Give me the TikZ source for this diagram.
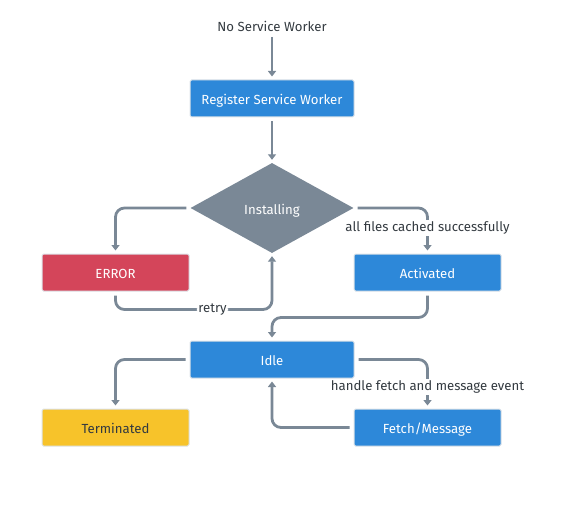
\documentclass[tikz,border=0pt]{standalone}
\usepackage{fontspec}
\setmainfont{Fira Sans}
\usetikzlibrary{shapes.geometric,arrows.meta}
\definecolor{cblue}{HTML}{2D88D9}
\definecolor{cred}{HTML}{D4455A}
\definecolor{cyellow}{HTML}{F7C32A}
\definecolor{cgray}{HTML}{7A8896}
\definecolor{ctext}{HTML}{333A40}
\definecolor{cedge}{HTML}{DDE3E8}
\tikzset{
  txt/.style={font=\fontsize{13.2}{15}\selectfont},
  box/.style={rectangle, rounded corners=1.5pt, draw=cedge, line width=1pt, minimum width=#1, minimum height=37pt, inner sep=0pt, text height=12pt, text depth=0pt, txt},
  bluebox/.style={box=164pt, fill=cblue, text=white},
  sbluebox/.style={box=147pt, fill=cblue, text=white},
  redbox/.style={box=147pt, fill=cred, text=white},
  yellowbox/.style={box=147pt, fill=cyellow, text=ctext},
  decision/.style={diamond, fill=cgray, text=white, minimum width=163pt, minimum height=90pt, aspect=1.81, inner sep=0pt, text height=12pt, text depth=0pt, txt},
  conn/.style={draw=cgray, line width=2.8pt, rounded corners=9pt, -{Triangle[width=8pt,length=5.5pt]}, shorten >=3pt, shorten <=4pt},
  lbl/.style={fill=white, text=ctext, inner sep=1.5pt, txt},
  plain/.style={text=ctext, txt}
}
\begin{document}
\begin{tikzpicture}[x=1pt,y=-1pt]
\useasboundingbox (0,0) rectangle (572,513);
\node[plain] (start) at (272,26) {No Service Worker};
\node[bluebox] (reg) at (272,98.5) {Register Service Worker};
\node[decision] (inst) at (272,208) {Installing};
\node[redbox] (err) at (115.5,272.5) {ERROR};
\node[sbluebox] (act) at (427.5,272.5) {Activated};
\node[bluebox] (idle) at (272,359.5) {Idle};
\node[yellowbox] (term) at (115.5,427.5) {Terminated};
\node[sbluebox] (fetch) at (427.5,427.5) {Fetch/Message};

\draw[conn, shorten <=2pt] (start) -- (reg);
\draw[conn] (reg) -- (inst);
\draw[conn] (inst.west) -| (err.north);
\draw[conn] (inst.east) -| (act.north) node[lbl, pos=0.72] {all files cached successfully};
\draw[conn] (err.south) -- ++(0,18) -| (inst.south) node[lbl, pos=0.31] {retry};
\draw[conn] (act.south) -- ++(0,26) -| (idle.north);
\draw[conn] (idle.west) -| (term.north);
\draw[conn] (idle.east) -| (fetch.north) node[lbl, pos=0.78] {handle fetch and message event};
\draw[conn] (fetch.west) -| (idle.south);
\end{tikzpicture}
\end{document}
